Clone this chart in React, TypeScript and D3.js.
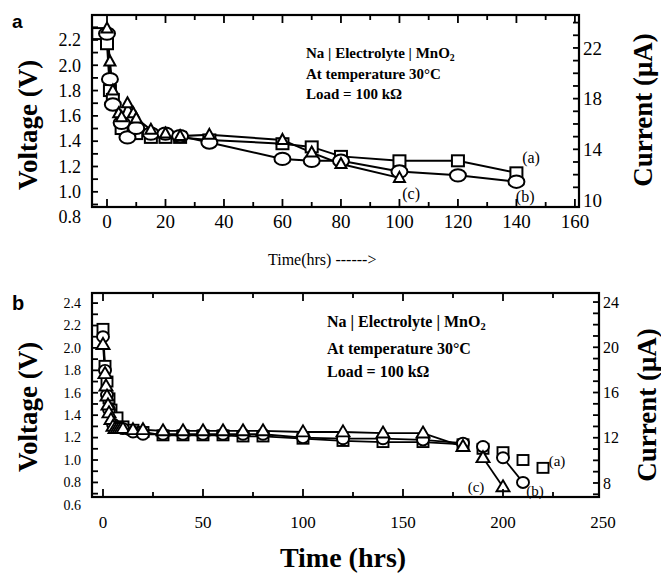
import React from "react";
import * as d3 from "d3";

// ---------- Panel a data ----------
const aSqT = [-3, 0, 1, 2, 5, 10, 15, 20, 25, 35, 60, 70, 80, 100, 120, 140];
const aSqV = [2.25, 2.17, 1.8, 1.73, 1.5, 1.46, 1.43, 1.43, 1.43, 1.41, 1.38, 1.355, 1.28, 1.245, 1.245, 1.15];
const aCiT = [0, 1, 2, 5, 7, 10, 15, 20, 25, 35, 60, 70, 80, 100, 120, 140];
const aCiV = [2.25, 1.89, 1.69, 1.545, 1.43, 1.505, 1.46, 1.46, 1.44, 1.39, 1.26, 1.245, 1.245, 1.16, 1.13, 1.08];
const aTrT = [0, 1, 2, 4, 5, 7, 9, 10, 15, 20, 25, 35, 60, 70, 80, 100];
const aTrV = [2.29, 2.03, 1.8, 1.62, 1.59, 1.7, 1.62, 1.58, 1.49, 1.46, 1.44, 1.45, 1.41, 1.31, 1.22, 1.11];

// ---------- Panel b data ----------
const bSqT = [0, 1, 2, 3, 4, 7, 10, 15, 20, 30, 40, 50, 60, 70, 80, 100, 120, 140, 160, 180, 190, 200, 210, 220];
const bSqV = [2.17, 1.84, 1.7, 1.55, 1.45, 1.38, 1.3, 1.27, 1.25, 1.22, 1.22, 1.22, 1.22, 1.21, 1.21, 1.19, 1.17, 1.16, 1.16, 1.14, 1.1, 1.07, 1.0, 0.93];
const bCiT = [0, 1, 2, 3, 5, 10, 15, 20, 30, 40, 50, 60, 70, 80, 100, 120, 140, 160, 180, 190, 200, 210];
const bCiV = [2.1, 1.8, 1.58, 1.45, 1.32, 1.28, 1.25, 1.23, 1.23, 1.23, 1.23, 1.23, 1.23, 1.23, 1.2, 1.19, 1.19, 1.18, 1.15, 1.12, 1.02, 0.8];
const bTrT = [0, 1, 1.5, 2, 2.5, 3, 4, 5, 6, 7, 8, 9, 10, 15, 20, 30, 40, 50, 60, 70, 80, 100, 120, 140, 160, 180, 190, 200];
const bTrV = [2.03, 1.77, 1.66, 1.57, 1.49, 1.42, 1.36, 1.3, 1.28, 1.28, 1.28, 1.28, 1.28, 1.27, 1.27, 1.26, 1.26, 1.26, 1.26, 1.26, 1.26, 1.25, 1.25, 1.24, 1.24, 1.12, 1.02, 0.76];
// connected time ranges for panel b lines
const bSqSegs = [[0, 180]];
const bCiSegs = [[0, 180], [200, 210]];
const bTrSegs = [[0, 180], [190, 200]];

// ---------- tick labels ----------
const aXLabels = [0, 20, 40, 60, 80, 100, 120, 140, 160];
const aYLabels = [0.8, 1.0, 1.2, 1.4, 1.6, 1.8, 2.0, 2.2];
const aCLabels = [10, 14, 18, 22];
const bXLabels = [0, 50, 100, 150, 200, 250];
const bYLabels = [0.6, 0.8, 1.0, 1.2, 1.4, 1.6, 1.8, 2.0, 2.2, 2.4];
const bCLabels = [8, 12, 16, 20, 24];

const aSeriesLabels = [
  { txt: "(a)", t: 145, v: 1.27 },
  { txt: "(c)", t: 104, v: 0.99 },
  { txt: "(b)", t: 143, v: 0.96 },
];
const bSeriesLabels = [
  { txt: "(a)", t: 227, v: 0.99 },
  { txt: "(c)", t: 186.5, v: 0.76 },
  { txt: "(b)", t: 216, v: 0.73 },
];

const SERIF = "'Liberation Serif', 'Times New Roman', serif";
const SANS = "'Liberation Sans', Arial, sans-serif";

type Pt = [number, number];
const zip = (t: number[], v: number[]): Pt[] => t.map((x, i) => [x, v[i]]);

function Panel(props: {
  x: d3.ScaleLinear<number, number>;
  y: d3.ScaleLinear<number, number>;
  c: d3.ScaleLinear<number, number>;
  xTicks: number[];
  xMajorEvery: number;
  yTicks: number[];
  cTicks: number[];
  xLabels: number[];
  yLabels: number[];
  cLabels: number[];
  xFont: number;
  yFont: number;
  cFont: number;
  xBase: number;
  series: { pts: Pt[]; shape: string; segs?: number[][] }[];
  ms: { sq: [number, number]; ci: [number, number]; tr: [number, number] };
  lineW: number;
  markW: number;
  labels: { txt: string; t: number; v: number }[];
  labelFont: number;
}) {
  const { x, y, c } = props;
  const [x0, x1] = x.range();
  const [y0, y1] = y.range(); // y0 bottom, y1 top
  const line = d3.line<Pt>().x((d) => x(d[0])).y((d) => y(d[1]));
  const marker = (shape: string, p: Pt, k: number) => {
    const cx = x(p[0]);
    const cy = y(p[1]);
    const sw = props.markW;
    if (shape === "sq") {
      const [w, h] = props.ms.sq;
      return <rect key={k} x={cx - w / 2} y={cy - h / 2} width={w} height={h} fill="#fff" stroke="#000" strokeWidth={sw} />;
    }
    if (shape === "ci") {
      const [rx, ry] = props.ms.ci;
      return <ellipse key={k} cx={cx} cy={cy} rx={rx} ry={ry} fill="#fff" stroke="#000" strokeWidth={sw} />;
    }
    const [w, h] = props.ms.tr;
    const d = `M${cx},${cy - h * 0.6} L${cx + w / 2},${cy + h * 0.4} L${cx - w / 2},${cy + h * 0.4} Z`;
    return <path key={k} d={d} fill="#fff" stroke="#000" strokeWidth={sw} strokeLinejoin="miter" />;
  };
  return (
    <g>
      {props.series.map((s, i) => {
        const segs = s.segs || [[-Infinity, Infinity]];
        return segs.map((sg, j) => (
          <path
            key={`l${i}-${j}`}
            d={line(s.pts.filter((p) => p[0] >= sg[0] && p[0] <= sg[1])) || ""}
            fill="none"
            stroke="#000"
            strokeWidth={props.lineW}
          />
        ));
      })}
      {props.series.map((s, i) => (
        <g key={`m${i}`}>{s.pts.map((p, k) => marker(s.shape, p, k))}</g>
      ))}
      <rect x={x0} y={y1} width={x1 - x0} height={y0 - y1} fill="none" stroke="#000" strokeWidth={2.2} />
      {props.xTicks.map((t, i) => {
        const len = t % props.xMajorEvery === 0 ? 8 : 5;
        return (
          <g key={`xt${i}`}>
            <line x1={x(t)} x2={x(t)} y1={y0} y2={y0 - len} stroke="#000" strokeWidth={1.8} />
            <line x1={x(t)} x2={x(t)} y1={y1} y2={y1 + len} stroke="#000" strokeWidth={1.8} />
          </g>
        );
      })}
      {props.yTicks.map((t, i) => (
        <line key={`yt${i}`} x1={x0} x2={x0 + 6} y1={y(t)} y2={y(t)} stroke="#000" strokeWidth={1.8} />
      ))}
      {props.cTicks.map((t, i) => (
        <line key={`ct${i}`} x1={x1} x2={x1 - 6} y1={c(t)} y2={c(t)} stroke="#000" strokeWidth={1.8} />
      ))}
      {props.xLabels.map((t, i) => (
        <text key={`xl${i}`} x={x(t)} y={props.xBase} textAnchor="middle" fontFamily={SERIF} fontSize={props.xFont}>
          {t}
        </text>
      ))}
      {props.yLabels.map((t, i) => (
        <text key={`yl${i}`} x={x0 - 11} y={y(t)} dy="0.35em" textAnchor="end" fontFamily={SERIF} fontSize={props.yFont}>
          {d3.format(".1f")(t)}
        </text>
      ))}
      {props.cLabels.map((t, i) => (
        <text key={`cl${i}`} x={x1 + 4} y={c(t)} dy="0.35em" textAnchor="start" fontFamily={SERIF} fontSize={props.cFont}>
          {t}
        </text>
      ))}
      {props.labels.map((l, i) => (
        <text key={`sl${i}`} x={x(l.t)} y={y(l.v)} dy="0.35em" textAnchor="middle" fontFamily={SERIF} fontSize={props.labelFont}>
          {l.txt}
        </text>
      ))}
    </g>
  );
}

function Annot(props: { x: number; ys: number[]; fs: number }) {
  const { x, ys, fs } = props;
  const st = { fontFamily: SERIF, fontSize: fs, fontWeight: 700 as const };
  return (
    <g>
      <text x={x} y={ys[0]} {...st}>
        Na | Electrolyte | MnO
        <tspan fontSize={fs * 0.65} dy={3}>2</tspan>
      </text>
      <text x={x} y={ys[1]} {...st}>At temperature 30°C</text>
      <text x={x} y={ys[2]} {...st}>Load = 100 kΩ</text>
    </g>
  );
}

export default function App() {
  const xA = d3.scaleLinear().domain([-5.13, 161.4]).range([92, 579]);
  const yA = d3.scaleLinear().domain([0.88, 2.397]).range([207, 15]);
  const cA = d3.scaleLinear().domain([10, 24.6]).range([200, 15]);

  const xB = d3.scaleLinear().domain([-5.5, 248]).range([92, 599]);
  const yB = d3.scaleLinear().domain([0.67, 2.49]).range([497, 293]);
  const cB = d3.scaleLinear().domain([6.76, 24.8]).range([497, 293]);

  return (
    <svg width={661} height={576} style={{ position: "absolute", left: 0, top: 0, background: "#fff" }}>
      <rect width={661} height={576} fill="#fff" />
      <Panel
        x={xA}
        y={yA}
        c={cA}
        xTicks={d3.range(0, 161, 10)}
        xMajorEvery={20}
        yTicks={d3.range(0.9, 2.35, 0.1)}
        cTicks={d3.range(11, 25, 1)}
        xLabels={aXLabels}
        yLabels={aYLabels}
        cLabels={aCLabels}
        xFont={19}
        yFont={18}
        cFont={19}
        xBase={228}
        series={[
          { pts: zip(aSqT, aSqV), shape: "sq" },
          { pts: zip(aCiT, aCiV), shape: "ci" },
          { pts: zip(aTrT, aTrV), shape: "tr" },
        ]}
        ms={{ sq: [12, 11], ci: [8, 6.2], tr: [11, 10] }}
        lineW={2}
        markW={2}
        labels={aSeriesLabels}
        labelFont={16}
      />
      <Panel
        x={xB}
        y={yB}
        c={cB}
        xTicks={d3.range(0, 248, 25)}
        xMajorEvery={50}
        yTicks={d3.range(0.7, 2.45, 0.1)}
        cTicks={d3.range(7, 25, 1)}
        xLabels={bXLabels}
        yLabels={bYLabels}
        cLabels={bCLabels}
        xFont={17}
        yFont={14}
        cFont={16}
        xBase={528}
        series={[
          { pts: zip(bSqT, bSqV), shape: "sq", segs: bSqSegs },
          { pts: zip(bCiT, bCiV), shape: "ci", segs: bCiSegs },
          { pts: zip(bTrT, bTrV), shape: "tr", segs: bTrSegs },
        ]}
        ms={{ sq: [11, 10], ci: [6, 5.5], tr: [13, 11] }}
        lineW={1.8}
        markW={1.9}
        labels={bSeriesLabels}
        labelFont={15}
      />
      <Annot x={306} ys={[58, 79, 99]} fs={15} />
      <Annot x={327} ys={[327, 354, 377]} fs={16} />

      <text x={12} y={28} fontFamily={SANS} fontWeight={700} fontSize={19}>a</text>
      <text x={12} y={310} fontFamily={SANS} fontWeight={700} fontSize={20}>b</text>

      <text transform="translate(37,125) rotate(-90)" textAnchor="middle" fontFamily={SERIF} fontWeight={700} fontSize={27}>
        Voltage (V)
      </text>
      <text transform="translate(37,407) rotate(-90)" textAnchor="middle" fontFamily={SERIF} fontWeight={700} fontSize={27}>
        Voltage (V)
      </text>
      <text transform="translate(652,110) rotate(-90)" textAnchor="middle" fontFamily={SERIF} fontWeight={700} fontSize={27}>
        Current (μA)
      </text>
      <text transform="translate(656,405) rotate(-90)" textAnchor="middle" fontFamily={SERIF} fontWeight={700} fontSize={27}>
        Current (μA)
      </text>
      <text x={268} y={265} fontFamily={SERIF} fontSize={16}>
        Time(hrs) ------&gt;
      </text>
      <text x={343} y={567} textAnchor="middle" fontFamily={SERIF} fontWeight={700} fontSize={28}>
        Time (hrs)
      </text>
    </svg>
  );
}
